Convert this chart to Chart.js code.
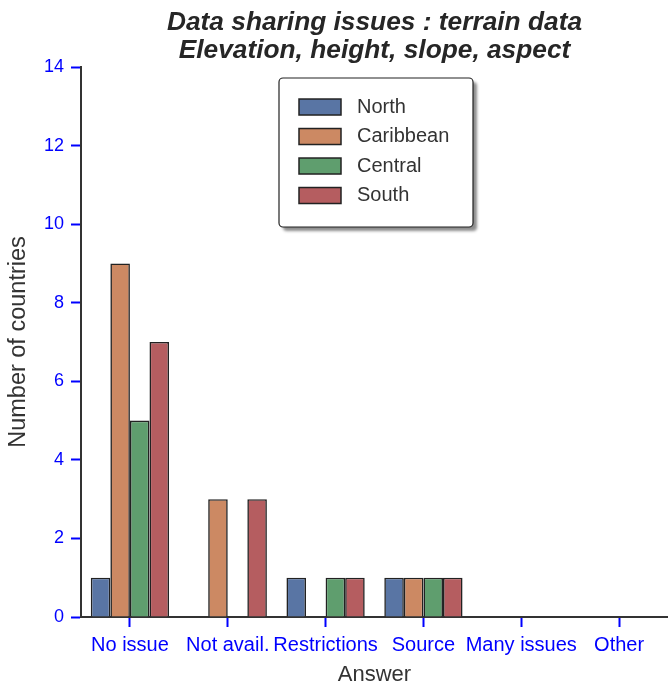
<!DOCTYPE html>
<html>
<head>
<meta charset="utf-8">
<script src="https://cdn.jsdelivr.net/npm/chart.js@4/dist/chart.umd.min.js"></script>
<style>
  body { margin: 0; background: #fff; }
  #wrap { width: 668px; height: 688px; }
</style>
</head>
<body>
<div id="wrap"><canvas id="grafico" width="668" height="688"></canvas></div>
<script>
var categorias = ['No issue', 'Not avail.', 'Restrictions', 'Source', 'Many issues', 'Other'];
var regioes = ['North', 'Caribbean', 'Central', 'South'];
var north = [1, 0, 1, 1, 0, 0];
var caribbean = [9, 3, 0, 1, 0, 0];
var central = [5, 0, 1, 1, 0, 0];
var south = [7, 3, 1, 1, 0, 0];
var yTicks = [0, 2, 4, 6, 8, 10, 12, 14];

var cores = ['#5975a4', '#cc8963', '#5f9e6e', '#b55d60'];
var fonte = '"Liberation Sans", Arial, sans-serif';
var azul = '#0000ff';
var eixo = '#333333';

// legend drawn as a framed box with shadow, like the original
var caixaLegenda = {
    id: 'caixaLegenda',
    afterDraw: function(chart) {
        var ctx = chart.ctx;
        var a = chart.chartArea;
        var x = a.left + 198, y = a.top + 11, w = 194, h = 149;
        ctx.save();
        ctx.shadowColor = 'rgba(0,0,0,0.45)';
        ctx.shadowOffsetX = 4;
        ctx.shadowOffsetY = 4;
        ctx.shadowBlur = 3;
        ctx.beginPath();
        ctx.roundRect(x, y, w, h, 4);
        ctx.fillStyle = '#ffffff';
        ctx.fill();
        ctx.shadowColor = 'transparent';
        ctx.lineWidth = 1.2;
        ctx.strokeStyle = '#222222';
        ctx.stroke();
        chart.data.datasets.forEach(function(ds, i) {
            var cy = y + 29 + i * 29.5;
            ctx.fillStyle = ds.backgroundColor;
            ctx.fillRect(x + 20, cy - 8, 42, 16);
            ctx.lineWidth = 1.5;
            ctx.strokeStyle = '#222222';
            ctx.strokeRect(x + 20, cy - 8, 42, 16);
            ctx.fillStyle = '#333333';
            ctx.font = '20px ' + fonte;
            ctx.textBaseline = 'middle';
            ctx.textAlign = 'left';
            ctx.fillText(ds.label, x + 78, cy);
        });
        ctx.restore();
    }
};

var series = [north, caribbean, central, south];
var ctx = document.getElementById('grafico').getContext('2d');
var grafico = new Chart(ctx, {
    type: 'bar',
    data: {
        labels: categorias,
        datasets: series.map(function(s, i) {
            return {
                label: regioes[i],
                data: s,
                backgroundColor: cores[i],
                borderColor: '#222222',
                borderWidth: 1.6,
                categoryPercentage: 0.8,
                barPercentage: 1.0
            };
        })
    },
    options: {
        responsive: false,
        animation: false,
        layout: { padding: 0 },
        plugins: {
            legend: { display: false },
            tooltip: { enabled: false },
            title: {
                display: true,
                fullSize: false,
                text: ['Data sharing issues : terrain data', 'Elevation, height, slope, aspect'],
                color: '#262626',
                font: { family: fonte, size: 26.3, weight: 'bold', style: 'italic', lineHeight: 1.065 },
                padding: { top: 9, bottom: 2 }
            }
        },
        scales: {
            x: {
                offset: true,
                grid: { display: true, offset: false, drawOnChartArea: false, drawTicks: true, tickLength: 10, tickColor: azul, tickWidth: 2 },
                border: { display: true, color: eixo, width: 2 },
                ticks: { color: azul, font: { family: fonte, size: 20 }, padding: 6, maxRotation: 0, autoSkip: false },
                title: { display: true, text: 'Answer', color: '#333333', font: { family: fonte, size: 22 }, padding: { top: 0, bottom: 0 } },
                afterFit: function(s) { s.height = 71; }
            },
            y: {
                min: 0,
                max: 14,
                afterBuildTicks: function(s) { s.ticks = yTicks.map(function(v) { return { value: v }; }); },
                grid: { display: true, drawOnChartArea: false, drawTicks: true, tickLength: 10, tickColor: azul, tickWidth: 2 },
                border: { display: true, color: eixo, width: 2 },
                ticks: { color: azul, font: { family: fonte, size: 18 }, padding: 7 },
                title: { display: true, text: 'Number of countries', color: '#333333', font: { family: fonte, size: 23.5 }, padding: { top: 4, bottom: 0 } },
                afterFit: function(s) { s.width = 81; }
            }
        }
    },
    plugins: [caixaLegenda]
});
</script>
</body>
</html>
